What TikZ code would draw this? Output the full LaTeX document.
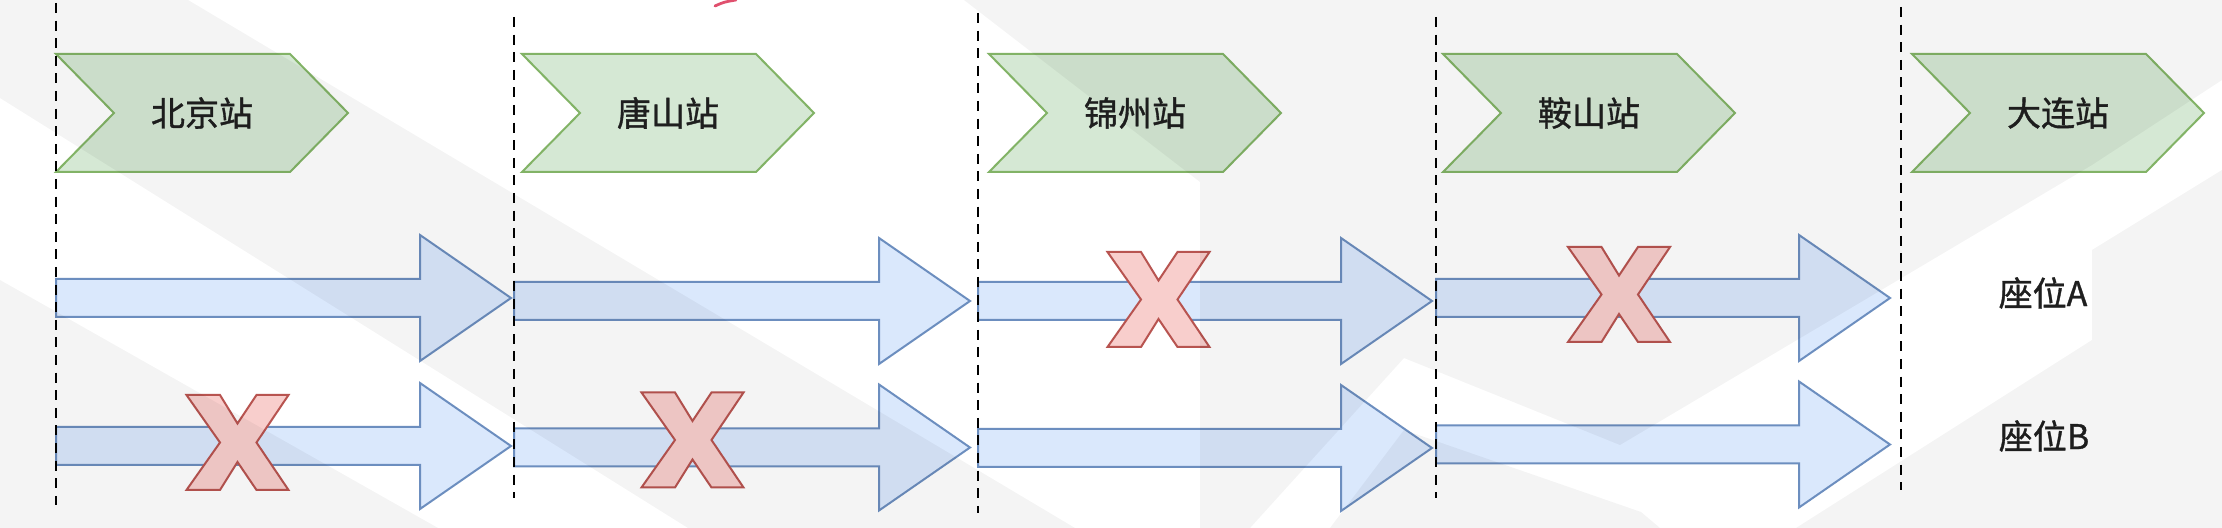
\documentclass[tikz,border=0pt]{standalone}
\usepackage{fontspec}
\setmainfont{Noto Sans CJK SC}[FakeBold=1]
\definecolor{cgreen}{HTML}{D5E8D4}
\definecolor{sgreen}{HTML}{82B366}
\definecolor{cblue}{HTML}{DAE8FC}
\definecolor{sblue}{HTML}{6C8EBF}
\definecolor{cred}{HTML}{F8CECC}
\definecolor{sred}{HTML}{B85450}
\definecolor{inkred}{HTML}{E0506E}
\begin{document}
\begin{tikzpicture}[x=0.5pt,y=-0.5pt,
  chev/.style={fill=cgreen, draw=sgreen, line width=1pt, line join=miter},
  barrow/.style={fill=cblue, draw=sblue, line width=1pt, line join=miter},
  xmark/.style={fill=cred, draw=sred, line width=1pt, line join=miter},
  vline/.style={black, line width=1.4pt, dash pattern=on 5pt off 3.8pt},
  lbl/.style={font=\fontsize{17}{20}\selectfont, text=black!88, inner sep=0pt},
  shade/.style={fill=black, fill opacity=0.045}]
% background
\fill[white] (0,0) rectangle (2222,528);
\useasboundingbox (0,0) rectangle (2222,528);
% red ink stroke at top
\draw[inkred, line width=1.4pt, line cap=round] (715,6) .. controls (724,2) .. (736,0);
% station chevrons
\foreach \n/\x/\t in {1/56/北京站, 2/522/唐山站, 3/989/锦州站, 4/1443/鞍山站, 5/1912/大连站} {
  \draw[chev] (\x,54) -- ++(234,0) -- ++(58,59) -- ++(-58,59) -- ++(-234,0) -- ++(58,-59) -- cycle;
  \node[lbl] (st\n) at (\x+146,113) {\t};
}
% block arrows, rows A and B
\foreach \xs/\xe/\ya/\yb in {56/511/298/446, 514/970/301/447.5, 978/1432/301/448, 1436/1890/298/444.5} {
  \foreach \y in {\ya,\yb} {
    \draw[barrow] (\xs,\y-19) -- (\xe-91,\y-19) -- (\xe-91,\y-63) -- (\xe,\y) -- (\xe-91,\y+63) -- (\xe-91,\y+19) -- (\xs,\y+19) -- cycle;
  }
}
% X marks
\foreach \cx/\cy in {237.5/442.5, 692.5/440, 1158.5/299.5, 1619/294.5} {
  \draw[xmark, shift={(\cx,\cy)}] (-51,-47.5) -- (-17.5,-47.5) -- (0,-19) -- (19,-47.5) -- (51,-47.5) -- (19,0) -- (51,47.5) -- (19,47.5) -- (0,19.5) -- (-17.5,47.5) -- (-51,47.5) -- (-17.5,0) -- cycle;
}
% dashed separators
\draw[vline] (56,3) -- (56,505);
\draw[vline] (514,17) -- (514,498);
\draw[vline] (978,13) -- (978,513);
\draw[vline] (1436,17) -- (1436,498);
\draw[vline] (1901,7) -- (1901,490);
% seat labels
\node[lbl] (seatA) at (2043,293) {座位A};
\node[lbl] (seatB) at (2044,436) {座位B};
% faint watermark overlay
\fill[shade] (0,0) -- (188,0) -- (1075,528) -- (688,528) -- (0,98) -- cycle;
\fill[shade] (0,280) -- (438,528) -- (0,528) -- cycle;
\begin{scope}
  \clip (964,0) -- (2222,0) -- (2222,528) -- (1200,528) -- (1200,182) -- cycle;
  \fill[shade, even odd rule] (0,0) rectangle (2222,528)
    (1250,528) -- (1404,358) -- (1620,445) -- (2092,165) -- (2222,80) -- (2222,170) -- (2092,250) -- (2092,340) -- (1796,528) -- (1660,528) -- (1641,512) -- (1404,430) -- (1330,528) -- cycle;
\end{scope}
\end{tikzpicture}
\end{document}
